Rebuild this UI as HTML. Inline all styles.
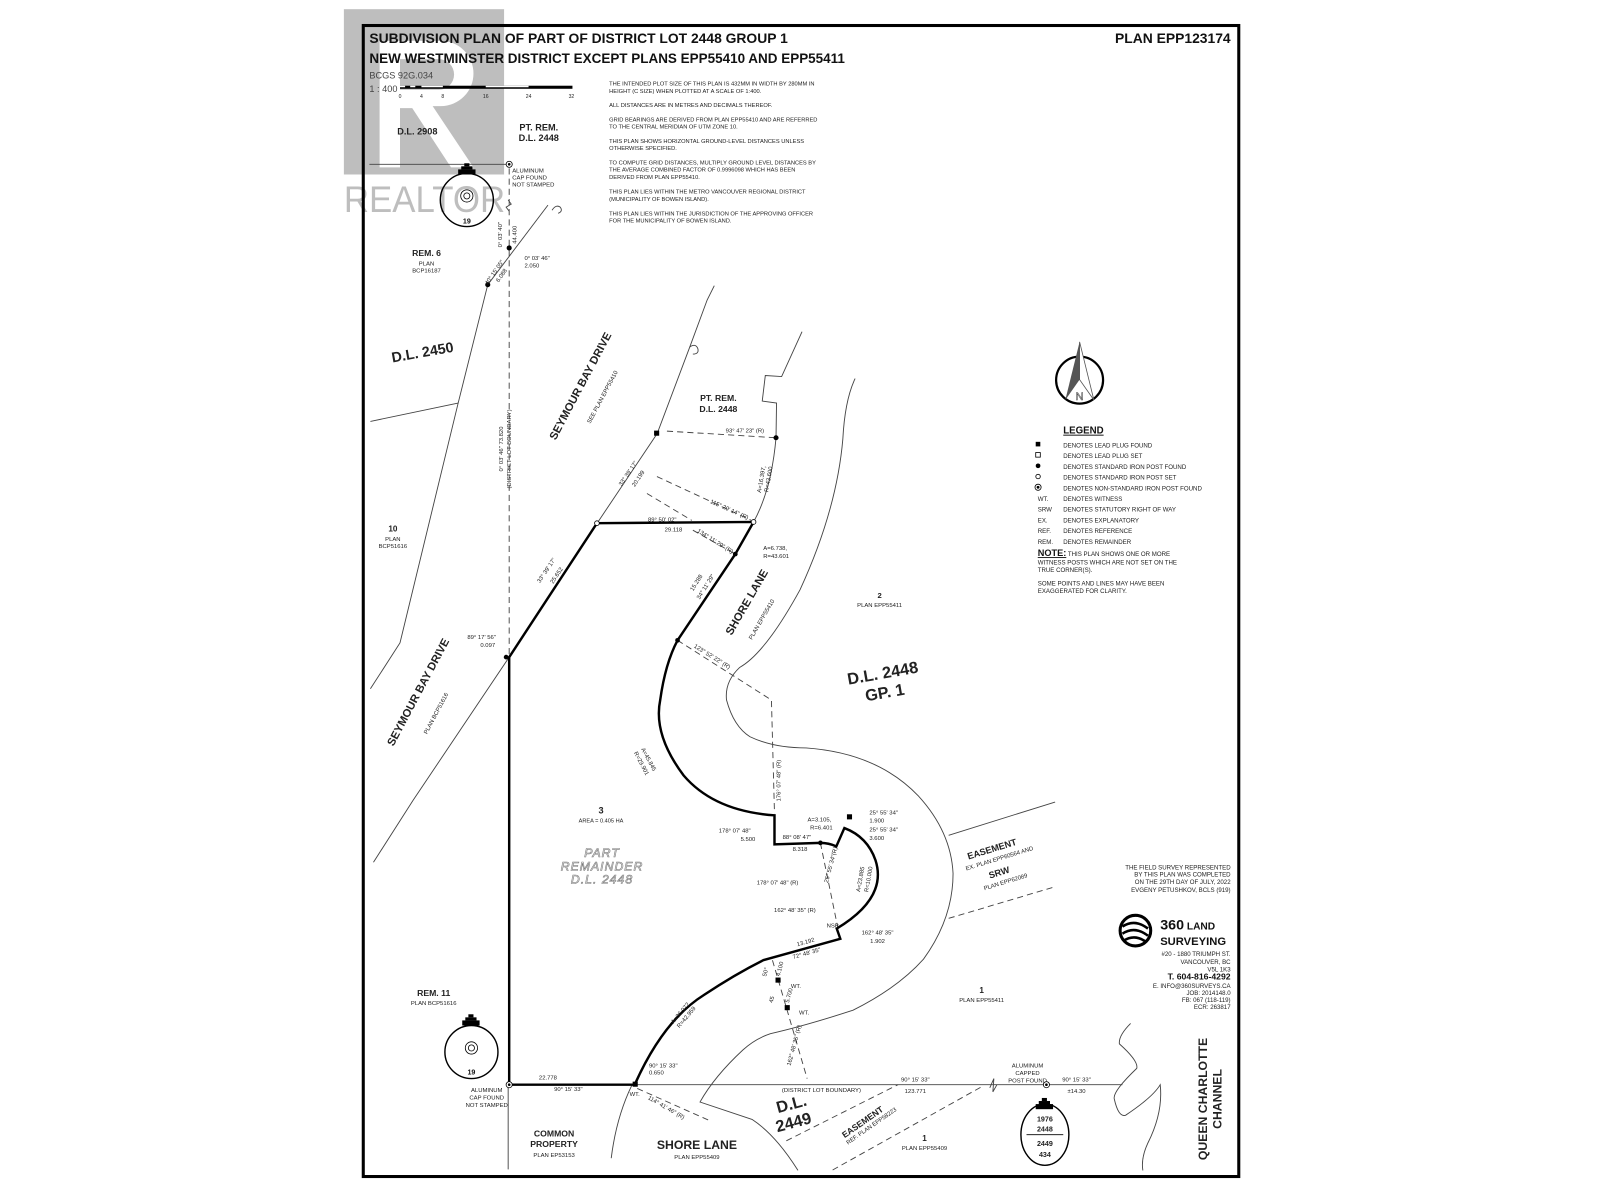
<!DOCTYPE html>
<html><head><meta charset="utf-8"><style>
html,body{margin:0;padding:0;background:#fff;}
svg{display:block;}
text{font-family:"Liberation Sans",Arial,sans-serif;fill:#222;}
.b{font-weight:bold;fill:#111;}
.s{font-size:6px;}
.m{font-size:6.5px;}
.n{font-size:6.2px;}
</style></head><body>
<svg width="1600" height="1200" viewBox="0 0 1568 1176" xmlns="http://www.w3.org/2000/svg">
<rect x="0" y="0" width="1568" height="1176" fill="#fff"/>
<!-- watermark -->
<g opacity="0.55">
<rect x="337" y="9" width="157" height="162" fill="#8a8a8a"/>
<path d="M372 40 h60 a32 32 0 0 1 0 64 h-8 l40 60 h-22 l-38 -58 h-12 v58 h-20 z M392 58 v30 h38 a15 15 0 0 0 0 -30 z" fill="#fff"/>
<text x="337" y="208" textLength="158" lengthAdjust="spacingAndGlyphs" style="font-size:36px;fill:#8a8a8a">REALTOR</text>
</g>
<!-- border -->
<rect x="356" y="25" width="858" height="1128" fill="none" stroke="#000" stroke-width="3"/>
<!-- title -->
<text x="362" y="42" class="b" style="font-size:13.6px">SUBDIVISION PLAN OF PART OF DISTRICT LOT 2448 GROUP 1</text>
<text x="362" y="61.5" class="b" style="font-size:13.6px" textLength="466" lengthAdjust="spacingAndGlyphs">NEW WESTMINSTER DISTRICT EXCEPT PLANS EPP55410 AND EPP55411</text>
<text x="1206" y="42" class="b" text-anchor="end" style="font-size:13.6px">PLAN EPP123174</text>
<text x="362" y="77" style="font-size:9px;fill:#444">BCGS 92G.034</text>
<text x="362" y="90" style="font-size:9px;fill:#444">1 : 400</text>
<rect x="392" y="84" width="169" height="3" fill="#000"/>
<rect x="392" y="84" width="5" height="1.5" fill="#fff"/><rect x="402" y="84" width="5" height="1.5" fill="#fff"/><rect x="413" y="84" width="21" height="1.5" fill="#fff"/><rect x="476" y="84" width="42" height="1.5" fill="#fff"/>
<g class="s" style="font-size:5px" text-anchor="middle"><text x="392" y="96">0</text><text x="413" y="96">4</text><text x="434" y="96">8</text><text x="476" y="96">16</text><text x="518" y="96">24</text><text x="560" y="96">32</text></g>
<g class="s" style="font-size:5.6px">
<text x="597" y="84">THE INTENDED PLOT SIZE OF THIS PLAN IS 432MM IN WIDTH BY 280MM IN</text>
<text x="597" y="91">HEIGHT (C SIZE) WHEN PLOTTED AT A SCALE OF 1:400.</text>
<text x="597" y="105">ALL DISTANCES ARE IN METRES AND DECIMALS THEREOF.</text>
<text x="597" y="119">GRID BEARINGS ARE DERIVED FROM PLAN EPP55410 AND ARE REFERRED</text>
<text x="597" y="126">TO THE CENTRAL MERIDIAN OF UTM ZONE 10.</text>
<text x="597" y="140">THIS PLAN SHOWS HORIZONTAL GROUND-LEVEL DISTANCES UNLESS</text>
<text x="597" y="147">OTHERWISE SPECIFIED.</text>
<text x="597" y="161">TO COMPUTE GRID DISTANCES, MULTIPLY GROUND LEVEL DISTANCES BY</text>
<text x="597" y="168">THE AVERAGE COMBINED FACTOR OF 0.9996098 WHICH HAS BEEN</text>
<text x="597" y="175.5">DERIVED FROM PLAN EPP55410.</text>
<text x="597" y="189.5">THIS PLAN LIES WITHIN THE METRO VANCOUVER REGIONAL DISTRICT</text>
<text x="597" y="197">(MUNICIPALITY OF BOWEN ISLAND).</text>
<text x="597" y="211">THIS PLAN LIES WITHIN THE JURISDICTION OF THE APPROVING OFFICER</text>
<text x="597" y="218">FOR THE MUNICIPALITY OF BOWEN ISLAND.</text>
</g>

<!-- thin lines -->
<g fill="none" stroke="#444" stroke-width="0.9">
<line x1="362" y1="161" x2="498" y2="161"/>
<polyline points="478,279 537,201"/>
<path d="M541 206 q4 -6 8 -3 q3 4 -2 6"/>
<polyline points="478,279 449,395 392,630 363,675"/>
<line x1="363" y1="413" x2="449" y2="395"/>
<polyline points="499,644 405,784 366,845"/>
<polyline points="700,280 693,294 676,340 644,425 585,513"/>
<path d="M676 340 q6 -4 8 2 q1 5 -5 5"/>
<polyline points="786,325 766,369 750,368 747,393 761,395 760.5,429"/>
<path d="M760.5 429 Q756 480 738.5 511.5"/>
<path d="M838 371 Q828 392 826 430 Q820 500 784 578 Q750 640 725 654 Q710 668 712 686 Q719 712 735 722 Q758 733 790 733 Q860 738 900 780 Q932 815 934 856 Q934 900 905 940 Q880 968 836 990 Q790 1005 755 1013 Q740 1018 728 1029 Q700 1055 686 1080 L737 1097 Q760 1112 782 1147"/>
<path d="M599 1135 Q604 1095 619 1064"/>
<line x1="929.7" y1="818.6" x2="1034" y2="786"/>
<line x1="622" y1="1063" x2="1100" y2="1063"/>
<line x1="498" y1="1063" x2="498" y2="1146"/>
<path d="M1108 1003 Q1096 1015 1097 1023 Q1116 1040 1114 1047 Q1090 1070 1092 1077 Q1096 1095 1103 1093 Q1130 1075 1137 1063 Q1140 1090 1125 1120 Q1118 1135 1120 1147"/>
</g>
<path d="M970 1066 l4 -9 l-1 13 l4 -7" fill="none" stroke="#444" stroke-width="0.9"/>
<path d="M498 196 l3 4 l-5 3 l3 4" fill="none" stroke="#444" stroke-width="0.9"/>
<!-- dashed lines -->
<g fill="none" stroke="#444" stroke-width="0.9" stroke-dasharray="6,4">
<line x1="499" y1="165" x2="499" y2="644"/>
<line x1="653.6" y1="422.5" x2="760.5" y2="429"/>
<line x1="643.8" y1="467" x2="736" y2="509.8"/>
<line x1="634" y1="483.6" x2="678" y2="510"/>
<line x1="679" y1="519.6" x2="720.6" y2="543"/>
<polyline points="664,627.5 756,686 759,797"/>
<line x1="804" y1="826" x2="821.6" y2="911.8"/>
<line x1="757" y1="941" x2="791" y2="1057"/>
<line x1="770.6" y1="1118" x2="880" y2="1063"/>
<line x1="816" y1="1146.6" x2="962" y2="1065"/>
<line x1="624.5" y1="1066.7" x2="695" y2="1098"/>
<line x1="929.7" y1="900" x2="1034" y2="869"/>
</g>
<!-- thick boundary -->
<path d="M499 644 L499 1063 L622 1063 Q650 1000 690 975 Q720 955 748 941 L823.5 920 L820 910 Q870 880 858 843 Q850 820 827.5 811.5 L819.6 829.4 Q812 826 804 826 L759 827.5 L759 799 Q700 795 670 760 Q640 720 647 686 Q652 650 664 627.5 L720.6 543 L738.5 511.5 L585 512.7 Z" fill="none" stroke="#000" stroke-width="2.4" stroke-linejoin="miter"/>
<!-- markers -->
<g>
<circle cx="499" cy="161" r="3" fill="#fff" stroke="#000" stroke-width="0.8"/><circle cx="499" cy="161" r="1.3" fill="#000"/>
<circle cx="499" cy="243" r="2.5" fill="#000"/>
<circle cx="478" cy="279" r="2.5" fill="#000"/>
<rect x="641" y="422" width="5" height="5" fill="#000"/>
<circle cx="760.5" cy="429" r="2.5" fill="#000"/>
<circle cx="585" cy="512.7" r="2.3" fill="#fff" stroke="#000" stroke-width="0.8"/>
<circle cx="738.5" cy="511.5" r="2.3" fill="#fff" stroke="#000" stroke-width="0.8"/>
<circle cx="720.6" cy="543" r="2.3" fill="#000"/>
<circle cx="664" cy="627.5" r="2.3" fill="#000"/>
<circle cx="496" cy="644" r="2.3" fill="#000"/>
<circle cx="804" cy="826" r="2.3" fill="#000"/>
<rect x="830" y="798" width="5" height="5" fill="#000"/>
<rect x="760" y="958" width="5" height="5" fill="#000"/>
<rect x="769" y="985" width="5" height="5" fill="#000"/>
<rect x="620" y="1060" width="5" height="5" fill="#000"/>
<circle cx="499" cy="1063" r="3" fill="#fff" stroke="#000" stroke-width="0.8"/><circle cx="499" cy="1063" r="1.3" fill="#000"/>
<circle cx="1025.5" cy="1063" r="3" fill="#fff" stroke="#000" stroke-width="0.8"/><circle cx="1025.5" cy="1063" r="1.3" fill="#000"/>
</g>
<!-- monument circles -->
<g fill="none" stroke="#000" stroke-width="1.4">
<circle cx="457.5" cy="196" r="26"/><circle cx="457.5" cy="192" r="6" stroke-width="0.8"/><circle cx="457.5" cy="192" r="3" stroke-width="0.8"/>
<circle cx="462" cy="1031" r="26"/><circle cx="462" cy="1027" r="6" stroke-width="0.8"/><circle cx="462" cy="1027" r="3" stroke-width="0.8"/>
<ellipse cx="1024" cy="1112" rx="23.5" ry="30"/>
<line x1="1006" y1="1112" x2="1042" y2="1112" stroke-width="0.9"/>
</g>
<g fill="#000">
<rect x="449" y="166" width="17" height="5"/><rect x="452" y="163" width="11" height="3"/><rect x="455" y="160" width="5" height="3"/>
<rect x="453" y="1000" width="17" height="5"/><rect x="456" y="997" width="11" height="3"/><rect x="459" y="994" width="5" height="3"/>
<rect x="1015" y="1082" width="17" height="5"/><rect x="1018" y="1079" width="11" height="3"/><rect x="1021" y="1076" width="5" height="3"/>
</g>
<text x="457.5" y="219" class="b" text-anchor="middle" style="font-size:7px">19</text>
<text x="462" y="1053" class="b" text-anchor="middle" style="font-size:7px">19</text>
<g class="b" text-anchor="middle" style="font-size:7px"><text x="1024" y="1099">1976</text><text x="1024" y="1109">2448</text><text x="1024" y="1123">2449</text><text x="1024" y="1134">434</text></g>

<!-- north arrow -->
<circle cx="1058" cy="372.5" r="23" fill="none" stroke="#000" stroke-width="2.2"/>
<path d="M1058 335 L1044 392 L1058 372 Z" fill="#555"/>
<path d="M1058 335 L1072 392 L1058 372 Z" fill="#fff" stroke="#555" stroke-width="0.8"/>
<text x="1058" y="392" text-anchor="middle" style="font-size:11px;fill:none;stroke:#555;stroke-width:0.6">N</text>

<!-- legend -->
<text x="1042" y="425" class="b" style="font-size:9.5px;text-decoration:underline">LEGEND</text>
<rect x="1015" y="433" width="4.5" height="4.5" fill="#000"/>
<rect x="1015" y="443.5" width="4.5" height="4.5" fill="#fff" stroke="#000" stroke-width="0.8"/>
<circle cx="1017.3" cy="456.5" r="2.3" fill="#000"/>
<circle cx="1017.3" cy="467" r="2.2" fill="#fff" stroke="#000" stroke-width="0.8"/>
<circle cx="1017.3" cy="477.5" r="3" fill="#fff" stroke="#000" stroke-width="0.8"/><circle cx="1017.3" cy="477.5" r="1.4" fill="#000"/>
<g class="m" style="font-size:6px">
<text x="1042" y="438.5">DENOTES LEAD PLUG FOUND</text>
<text x="1042" y="449">DENOTES LEAD PLUG SET</text>
<text x="1042" y="459.5">DENOTES STANDARD IRON POST FOUND</text>
<text x="1042" y="470">DENOTES STANDARD IRON POST SET</text>
<text x="1042" y="480.5">DENOTES NON-STANDARD IRON POST FOUND</text>
<text x="1042" y="491">DENOTES WITNESS</text>
<text x="1042" y="501.5">DENOTES STATUTORY RIGHT OF WAY</text>
<text x="1042" y="512">DENOTES EXPLANATORY</text>
<text x="1042" y="522.5">DENOTES REFERENCE</text>
<text x="1042" y="533">DENOTES REMAINDER</text>
<text x="1017" y="491">WT.</text><text x="1017" y="501.5">SRW</text><text x="1017" y="512">EX.</text><text x="1017" y="522.5">REF.</text><text x="1017" y="533">REM.</text>
<text x="1017" y="545"><tspan class="b" style="font-size:9px;text-decoration:underline">NOTE:</tspan> THIS PLAN SHOWS ONE OR MORE</text>
<text x="1017" y="553">WITNESS POSTS WHICH ARE NOT SET ON THE</text>
<text x="1017" y="560.5">TRUE CORNER(S).</text>
<text x="1017" y="574">SOME POINTS AND LINES MAY HAVE BEEN</text>
<text x="1017" y="581">EXAGGERATED FOR CLARITY.</text>
</g>

<!-- surveyor block -->
<g class="m" text-anchor="end" style="font-size:6px">
<text x="1206" y="852">THE FIELD SURVEY REPRESENTED</text>
<text x="1206" y="859">BY THIS PLAN WAS COMPLETED</text>
<text x="1206" y="866.5">ON THE 29TH DAY OF JULY, 2022</text>
<text x="1206" y="874">EVGENY PETUSHKOV, BCLS (919)</text>
<text x="1206" y="937">#20 - 1880 TRIUMPH ST.</text>
<text x="1206" y="944.5">VANCOUVER, BC</text>
<text x="1206" y="952">V5L 1K3</text>
<text x="1206" y="968">E. INFO@360SURVEYS.CA</text>
<text x="1206" y="975">JOB: 2014148.0</text>
<text x="1206" y="982">FB: 067 (118-119)</text>
<text x="1206" y="989">ECR: 263817</text>
</g>
<text x="1206" y="960" class="b" text-anchor="end" style="font-size:8.5px">T. 604-816-4292</text>
<circle cx="1112.7" cy="912" r="15" fill="none" stroke="#000" stroke-width="3"/>
<path d="M1100 908 q12 -8 25 2 M1100 915 q12 -8 25 2 M1101 922 q11 -7 22 1" fill="none" stroke="#000" stroke-width="2.5"/>
<text x="1137" y="911" class="b" style="font-size:14px">360<tspan style="font-size:10px"> LAND</tspan></text>
<text x="1137" y="926" class="b" style="font-size:11px">SURVEYING</text>

<!-- labels -->
<g class="b">
<text x="409" y="132" text-anchor="middle" style="font-size:9px">D.L. 2908</text>
<text x="528" y="128" text-anchor="middle" style="font-size:9px">PT. REM.</text>
<text x="528" y="138" text-anchor="middle" style="font-size:9px">D.L. 2448</text>
<text x="418" y="251" text-anchor="middle" style="font-size:8.5px">REM. 6</text>
<text x="414" y="350" text-anchor="middle" transform="rotate(-10 414 345)" style="font-size:14px">D.L. 2450</text>
<text x="572" y="380" text-anchor="middle" transform="rotate(-62 572 380)" style="font-size:11px">SEYMOUR BAY DRIVE</text>
<text x="704" y="393" text-anchor="middle" style="font-size:8.5px">PT. REM.</text>
<text x="704" y="404" text-anchor="middle" style="font-size:8.5px">D.L. 2448</text>
<text x="385" y="521" text-anchor="middle" style="font-size:8px">10</text>
<text x="413" y="680" text-anchor="middle" transform="rotate(-62 413 680)" style="font-size:11px">SEYMOUR BAY DRIVE</text>
<text x="735" y="592" text-anchor="middle" transform="rotate(-60 735 592)" style="font-size:11px">SHORE LANE</text>
<text x="862" y="586" text-anchor="middle" style="font-size:7.5px">2</text>
<text x="866" y="665" text-anchor="middle" transform="rotate(-10 866 665)" style="font-size:16px">D.L. 2448</text>
<text x="868" y="684" text-anchor="middle" transform="rotate(-10 868 684)" style="font-size:16px">GP. 1</text>
<text x="589" y="797" text-anchor="middle" style="font-size:9px">3</text>
<text x="973" y="835" text-anchor="middle" transform="rotate(-17 973 835)" style="font-size:9px">EASEMENT</text>
<text x="980" y="858" text-anchor="middle" transform="rotate(-17 980 858)" style="font-size:9px">SRW</text>
<text x="425" y="976" text-anchor="middle" style="font-size:8.5px">REM. 11</text>
<text x="962" y="973" text-anchor="middle" style="font-size:8px">1</text>
<text x="543" y="1114" text-anchor="middle" style="font-size:8.5px">COMMON</text>
<text x="543" y="1124" text-anchor="middle" style="font-size:8.5px">PROPERTY</text>
<text x="683" y="1126" text-anchor="middle" style="font-size:12px">SHORE LANE</text>
<text x="777" y="1087" text-anchor="middle" transform="rotate(-15 777 1087)" style="font-size:16px">D.L.</text>
<text x="779" y="1105" text-anchor="middle" transform="rotate(-15 779 1105)" style="font-size:16px">2449</text>
<text x="847" y="1102" text-anchor="middle" transform="rotate(-35 847 1102)" style="font-size:8.5px">EASEMENT</text>
<text x="906" y="1118" text-anchor="middle" style="font-size:8px">1</text>
<text x="1183" y="1077" text-anchor="middle" transform="rotate(-90 1183 1077)" style="font-size:12px">QUEEN CHARLOTTE</text>
<text x="1197" y="1077" text-anchor="middle" transform="rotate(-90 1197 1077)" style="font-size:12px">CHANNEL</text>
</g>
<text x="590" y="840" text-anchor="middle" style="font-size:12px;font-style:italic;fill:none;stroke:#777;stroke-width:0.6;letter-spacing:1px">PART</text>
<text x="590" y="853" text-anchor="middle" style="font-size:12px;font-style:italic;fill:none;stroke:#777;stroke-width:0.6;letter-spacing:1px">REMAINDER</text>
<text x="590" y="866" text-anchor="middle" style="font-size:12px;font-style:italic;fill:none;stroke:#777;stroke-width:0.6;letter-spacing:1px">D.L. 2448</text>

<g class="n" style="font-size:5.8px">
<text x="502" y="169">ALUMINUM</text><text x="502" y="176">CAP FOUND</text><text x="502" y="183">NOT STAMPED</text>
<text x="418" y="260" text-anchor="middle">PLAN</text><text x="418" y="267" text-anchor="middle">BCP16187</text>
<text x="514" y="255">0° 03' 46"</text><text x="514" y="262">2.050</text>
<text x="492" y="230" text-anchor="middle" transform="rotate(-90 492 230)">0° 03' 40"</text>
<text x="506" y="230" text-anchor="middle" transform="rotate(-90 506 230)">44.400</text>
<text x="486" y="268" text-anchor="middle" transform="rotate(-55 486 268)">40° 15' 05"</text>
<text x="493" y="271" text-anchor="middle" transform="rotate(-55 493 271)">6.088</text>
<text x="592" y="390" text-anchor="middle" transform="rotate(-62 592 390)">SEE PLAN EPP55410</text>
<text x="385" y="530" text-anchor="middle">PLAN</text><text x="385" y="537" text-anchor="middle">BCP51616</text>
<text x="493" y="440" text-anchor="middle" transform="rotate(-90 493 440)">0° 03' 46"   73.820</text>
<text x="501" y="440" text-anchor="middle" transform="rotate(-90 501 440)">(DISTRICT LOT BOUNDARY)</text>
<text x="429" y="700" text-anchor="middle" transform="rotate(-62 429 700)">PLAN BCP51616</text>
<text x="472" y="626" text-anchor="middle">89° 17' 56"</text><text x="478" y="634" text-anchor="middle">0.097</text>
<text x="537" y="560" text-anchor="middle" transform="rotate(-56 537 560)">33° 39' 17"</text>
<text x="547" y="565" text-anchor="middle" transform="rotate(-56 547 565)">25.652</text>
<text x="617" y="465" text-anchor="middle" transform="rotate(-56 617 465)">33° 39' 17"</text>
<text x="627" y="470" text-anchor="middle" transform="rotate(-56 627 470)">20.199</text>
<text x="730" y="424" text-anchor="middle">93° 47' 23" (R)</text>
<text x="714" y="501" text-anchor="middle" transform="rotate(24 714 501)">115° 20' 14" (R)</text>
<text x="700" y="532" text-anchor="middle" transform="rotate(32 700 532)">134° 11' 29" (R)</text>
<text x="649" y="511" text-anchor="middle">89° 50' 02"</text><text x="660" y="521" text-anchor="middle">29.118</text>
<text x="748" y="470" text-anchor="middle" transform="rotate(-80 748 470)">A=16.397,</text>
<text x="755" y="470" text-anchor="middle" transform="rotate(-80 755 470)">R=43.600</text>
<text x="748" y="539">A=6.738,</text><text x="748" y="547">R=43.601</text>
<text x="748" y="608" text-anchor="middle" transform="rotate(-60 748 608)">PLAN EPP55410</text>
<text x="684" y="572" text-anchor="middle" transform="rotate(-58 684 572)">15.288</text>
<text x="693" y="576" text-anchor="middle" transform="rotate(-58 693 576)">34° 11' 29"</text>
<text x="697" y="645" text-anchor="middle" transform="rotate(32 697 645)">123° 52' 22" (R)</text>
<text x="862" y="595" text-anchor="middle">PLAN EPP55411</text>
<text x="634" y="745" text-anchor="middle" transform="rotate(62 634 745)">A=45.845</text>
<text x="627" y="749" text-anchor="middle" transform="rotate(62 627 749)">R=29.901</text>
<text x="765" y="765" text-anchor="middle" transform="rotate(-90 765 765)">176° 07' 48" (R)</text>
<text x="589" y="806" text-anchor="middle" style="font-size:5.5px">AREA = 0.405 HA</text>
<text x="720" y="816" text-anchor="middle">178° 07' 48"</text><text x="733" y="824" text-anchor="middle">5.500</text>
<text x="803" y="805" text-anchor="middle">A=3.105,</text><text x="805" y="813" text-anchor="middle">R=6.401</text>
<text x="781" y="822" text-anchor="middle">88° 08' 47"</text><text x="784" y="834" text-anchor="middle">8.318</text>
<text x="852" y="798">25° 55' 34"</text><text x="852" y="806">1.900</text>
<text x="852" y="815">25° 55' 34"</text><text x="852" y="823">3.600</text>
<text x="762" y="867" text-anchor="middle">178° 07' 48" (R)</text>
<text x="816" y="848" text-anchor="middle" transform="rotate(-75 816 848)">25° 55' 34"(R)</text>
<text x="845" y="862" text-anchor="middle" transform="rotate(-80 845 862)">A=23.885</text>
<text x="853" y="862" text-anchor="middle" transform="rotate(-80 853 862)">R=10.000</text>
<text x="980" y="843" text-anchor="middle" transform="rotate(-17 980 843)">EX. PLAN EPP60564 AND</text>
<text x="986" y="866" text-anchor="middle" transform="rotate(-17 986 866)">PLAN EPP62089</text>
<text x="779" y="894" text-anchor="middle">162° 48' 35" (R)</text>
<text x="816" y="909" text-anchor="middle">NSP</text>
<text x="860" y="916" text-anchor="middle">162° 48' 35"</text><text x="860" y="924" text-anchor="middle">1.902</text>
<text x="790" y="925" text-anchor="middle" transform="rotate(-16 790 925)">13.192</text>
<text x="791" y="936" text-anchor="middle" transform="rotate(-16 791 936)">72° 48' 35"</text>
<text x="752" y="953" text-anchor="middle" transform="rotate(-75 752 953)">50°</text>
<text x="766" y="950" text-anchor="middle" transform="rotate(-75 766 950)">4.100</text>
<text x="758" y="980" text-anchor="middle" transform="rotate(-75 758 980)">45</text>
<text x="775" y="976" text-anchor="middle" transform="rotate(-75 775 976)">5.700</text>
<text x="775" y="968" >WT.</text><text x="783" y="994">WT.</text>
<text x="780" y="1025" text-anchor="middle" transform="rotate(-75 780 1025)">162° 48' 35" (R)</text>
<text x="668" y="994" text-anchor="middle" transform="rotate(-50 668 994)">A=36.072</text>
<text x="674" y="998" text-anchor="middle" transform="rotate(-50 674 998)">R=42.959</text>
<text x="425" y="985" text-anchor="middle">PLAN BCP51616</text>
<text x="962" y="982" text-anchor="middle">PLAN EPP55411</text>
<text x="537" y="1058" text-anchor="middle">22.778</text><text x="557" y="1069" text-anchor="middle">90° 15' 33"</text>
<text x="477" y="1070" text-anchor="middle">ALUMINUM</text><text x="477" y="1077.5" text-anchor="middle">CAP FOUND</text><text x="477" y="1085" text-anchor="middle">NOT STAMPED</text>
<text x="636" y="1046">90° 15' 33"</text><text x="636" y="1053">0.650</text>
<text x="617" y="1074">WT.</text>
<text x="652" y="1087" text-anchor="middle" transform="rotate(30 652 1087)">114° 41' 46" (R)</text>
<text x="805" y="1070" text-anchor="middle">(DISTRICT LOT BOUNDARY)</text>
<text x="897" y="1060" text-anchor="middle">90° 15' 33"</text><text x="897" y="1071" text-anchor="middle">123.771</text>
<text x="1007" y="1046" text-anchor="middle">ALUMINUM</text><text x="1007" y="1053.5" text-anchor="middle">CAPPED</text><text x="1007" y="1061" text-anchor="middle">POST FOUND</text>
<text x="1055" y="1060" text-anchor="middle">90° 15' 33"</text><text x="1055" y="1071" text-anchor="middle">±14.30</text>
<text x="855" y="1105" text-anchor="middle" transform="rotate(-35 855 1105)">REF. PLAN EPP58223</text>
<text x="906" y="1127" text-anchor="middle">PLAN EPP55409</text>
<text x="543" y="1134" text-anchor="middle">PLAN EP53153</text>
<text x="683" y="1136" text-anchor="middle">PLAN EPP55409</text>
</g>
</svg>
</body></html>
